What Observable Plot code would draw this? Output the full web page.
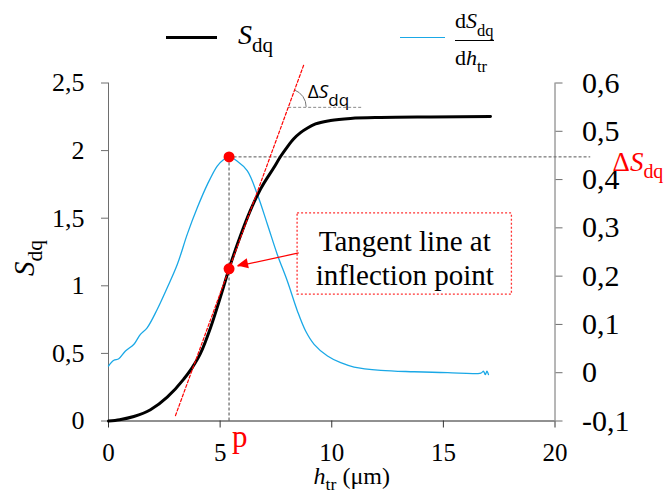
<!DOCTYPE html>
<html>
<head>
<meta charset="utf-8">
<script src="https://cdn.jsdelivr.net/npm/d3@7"></script>
<script src="https://cdn.jsdelivr.net/npm/@observablehq/plot@0.6"></script>
<style>
  body { margin: 0; background: #fff; }
  #wrap { position: relative; width: 669px; height: 493px; font-family: "Liberation Serif", "Times New Roman", serif; color: #000; }
  .lg { position: absolute; white-space: nowrap; line-height: 1; }
  .sb { position: relative; }
</style>
</head>
<body>
<div id="wrap"></div>
<script>
// ---- data ----
// S_dq curve (left axis)
const hS = [0, 0.5, 1.135, 1.88, 2.63, 3.37, 3.75, 4.12, 4.57, 5.02, 5.4, 5.91, 6.36, 6.81, 7.41, 7.706, 8.02, 8.289, 8.602, 8.916, 9.274, 9.946, 10.84, 12.19, 14.43, 17.11];
const S  = [0, 0.010, 0.033, 0.083, 0.176, 0.31, 0.395, 0.50, 0.69, 0.92, 1.126, 1.37, 1.56, 1.715, 1.875, 1.956, 2.030, 2.086, 2.133, 2.167, 2.197, 2.223, 2.238, 2.245, 2.249, 2.252];
// dS_dq/dh_tr curve (right axis)
const hD = [0, 0.24, 0.46, 0.76, 1.14, 1.43, 1.73, 2.18, 2.63, 3.08, 3.53, 3.98, 4.43, 4.87, 5.15, 5.4, 5.77, 6.22, 6.67, 7.12, 7.56, 8.01, 8.46, 8.83, 9.21, 9.81, 10.4, 11.0, 12.2, 13.69, 15.19, 16.68, 16.8, 16.88, 16.95, 17.02];
const dSdh = [0.0139, 0.0257, 0.029, 0.045, 0.059, 0.0795, 0.093, 0.131, 0.176, 0.224, 0.287, 0.342, 0.39, 0.428, 0.441, 0.447, 0.438, 0.418, 0.369, 0.307, 0.245, 0.19, 0.128, 0.0863, 0.0588, 0.0346, 0.0207, 0.0118, 0.005, 0.002, 0.0, -0.0006, 0.003, -0.004, 0.003, -0.004];

// ticks
const xTicks = [0, 5, 10, 15, 20];
const xLabels = ["0", "5", "10", "15", "20"];
const leftTicks = [0, 0.5, 1, 1.5, 2, 2.5];
const leftLabels = ["0", "0,5", "1", "1,5", "2", "2,5"];
const rightTicks = [-0.1, 0, 0.1, 0.2, 0.3, 0.4, 0.5, 0.6];
const rightLabels = ["-0,1", "0", "0,1", "0,2", "0,3", "0,4", "0,5", "0,6"];

// annotations (data units)
const inflection = [{x: 5.4, y: 1.126}];
const peak = [{x: 5.4, d: 0.447}];
const tangentX = [3.0, 8.76];
const tangentS = [0.04, 2.64];
const deltaLineX = [8.07, 11.4];
const deltaLineS = 2.32;
const peakLineEnd = 21.6;
const boxX = [8.47, 18.07];
const boxS = [0.935, 1.535];
const arrowFrom = [8.52, 1.243];
const arrowTo = [5.78, 1.146];
const boxText = "Tangent line at\ninflection point";

// legend / titles
const seriesNames = ["*S*_{dq}", "d*S*_{dq}", "d*h*_{tr}"];
const xTitle = "*h*_{tr} (μm)";
const deltaLabel = "Δ*S*_{dq}";
const deltaLabelSmall = "Δ*S*_(dq)";
const pLabel = "p";

// ---- scale mapping for right axis ----
const xDomain = [0, 20];
const leftDomain = [0, 2.5];
const rightDomain = [-0.1, 0.6];
const toLeft = v => (v - rightDomain[0]) / (rightDomain[1] - rightDomain[0]) * (leftDomain[1] - leftDomain[0]) + leftDomain[0];
const rightTicksL = rightTicks.map(toLeft);
const nearest = (arr, d) => { let bi = 0; arr.forEach((t, i) => { if (Math.abs(t - d) < Math.abs(arr[bi] - d)) bi = i; }); return bi; };

const curve = hS.map((x, i) => ({x, y: S[i]}));
const deriv = hD.map((x, i) => ({x, y: toLeft(dSdh[i])}));
const tangent = tangentX.map((x, i) => ({x, y: tangentS[i]}));
const peakL = peak.map(p => ({x: p.x, y: toLeft(p.d)}));

const blue = "#1aa8e6";
const red = "#ff0000";
const serif = "Liberation Serif";

const findScales = args => args.find(a => a && typeof a.x === "function" && typeof a.y === "function");

// angle arc between tangent and horizontal line
function angleMark(...args) {
  const sc = findScales(args);
  const cx = sc.x(deltaLineX[0]), cy = sc.y(deltaLineS);
  const ang = Math.atan2(sc.y(tangentS[1]) - sc.y(tangentS[0]), sc.x(tangentX[1]) - sc.x(tangentX[0]));
  const r = 18;
  return d3.create("svg:path")
    .attr("d", `M${cx + r},${cy} A${r},${r} 0 0 0 ${cx + r * Math.cos(ang)},${cy + r * Math.sin(ang)}`)
    .attr("fill", "none").attr("stroke", "#777").attr("stroke-width", 1).node();
}
// filled arrow head at the end of the callout arrow
function arrowHead(...args) {
  const sc = findScales(args);
  const x1 = sc.x(arrowFrom[0]), y1 = sc.y(arrowFrom[1]);
  const x2 = sc.x(arrowTo[0]), y2 = sc.y(arrowTo[1]);
  const a = Math.atan2(y2 - y1, x2 - x1);
  const L = 11, W = 5;
  const bx = x2 - L * Math.cos(a), by = y2 - L * Math.sin(a);
  const px = -Math.sin(a) * W, py = Math.cos(a) * W;
  return d3.create("svg:path")
    .attr("d", `M${x2},${y2} L${bx + px},${by + py} L${bx - px},${by - py} Z`)
    .attr("fill", red).node();
}

const plot = Plot.plot({
  width: 669,
  height: 493,
  marginLeft: 108,
  marginRight: 114.5,
  marginTop: 82.5,
  marginBottom: 72.5,
  x: {domain: xDomain},
  y: {domain: leftDomain},
  style: "background: white; overflow: visible; color: black; font-family: 'Liberation Serif', serif;",
  marks: [
    // dashed guides
    Plot.ruleX(peakL, {x: "x", y1: 0, y2: "y", stroke: "#8c8c8c", strokeWidth: 1.6, strokeDasharray: "3,2"}),
    Plot.ruleY(peakL, {y: "y", x1: "x", x2: peakLineEnd, stroke: "#555", strokeWidth: 1, strokeDasharray: "3,2"}),
    Plot.ruleY([deltaLineS], {x1: deltaLineX[0], x2: deltaLineX[1], stroke: "#888", strokeWidth: 1, strokeDasharray: "3,2"}),
    angleMark,
    // axes
    Plot.ruleY([0], {x1: xDomain[0], x2: xDomain[1], stroke: "#222"}),
    Plot.ruleX([xDomain[0]], {y1: leftDomain[0], y2: leftDomain[1], stroke: "#6e6e6e"}),
    Plot.ruleX([xDomain[1]], {y1: leftDomain[0], y2: leftDomain[1], stroke: "#6e6e6e"}),
    Plot.axisY({anchor: "left", ticks: leftTicks, tickFormat: d => leftLabels[nearest(leftTicks, d)], tickSize: 7, tickPadding: 17, fontSize: 26, fontFamily: serif, stroke: "#6e6e6e", label: null}),
    Plot.axisY({anchor: "right", ticks: rightTicksL, tickFormat: d => rightLabels[nearest(rightTicksL, d)], tickSize: 7, tickPadding: 20, fontSize: 30, fontFamily: serif, stroke: "#6e6e6e", label: null}),
    Plot.axisX({anchor: "bottom", ticks: xTicks, tickFormat: d => xLabels[nearest(xTicks, d)], tickSize: 7, tickPadding: 15, fontSize: 25, fontFamily: serif, stroke: "#333", label: null}),
    // curves
    Plot.line(deriv, {x: "x", y: "y", stroke: blue, strokeWidth: 1.3, curve: "catmull-rom"}),
    Plot.line(curve, {x: "x", y: "y", stroke: "black", strokeWidth: 3, curve: "monotone-x"}),
    Plot.line(tangent, {x: "x", y: "y", stroke: red, strokeWidth: 1.2, strokeDasharray: "3,2"}),
    // annotation box + arrow
    Plot.rect([{x1: boxX[0], x2: boxX[1], y1: boxS[0], y2: boxS[1]}], {x1: "x1", x2: "x2", y1: "y1", y2: "y2", fill: "none", stroke: "#ff3333", strokeWidth: 1.3, strokeDasharray: "2,2"}),
    Plot.text([boxText], {x: (boxX[0] + boxX[1]) / 2, y: (boxS[0] + boxS[1]) / 2, text: d => d, fontSize: 29, fontFamily: serif, lineAnchor: "middle", lineHeight: 1.17, dy: 3}),
    Plot.link([{x1: arrowFrom[0], y1: arrowFrom[1], x2: arrowTo[0], y2: arrowTo[1]}], {x1: "x1", y1: "y1", x2: "x2", y2: "y2", stroke: red, strokeWidth: 1.2}),
    arrowHead,
    // points
    Plot.dot(inflection, {x: "x", y: "y", r: 5.5, fill: red}),
    Plot.dot(peakL, {x: "x", y: "y", r: 5.5, fill: red}),
    // labels
    Plot.text(peakL, {x: xDomain[1], y: "y", text: () => deltaLabel, dx: 57.5, dy: 5, textAnchor: "start", lineAnchor: "middle", fontSize: 27, fontFamily: serif, fill: red}),
    Plot.text([deltaLineS], {x: deltaLineX[0], y: d => d, text: () => deltaLabelSmall, dx: 19, dy: -15, textAnchor: "start", lineAnchor: "middle", fontSize: 19, fontFamily: "Open Sans"}),
    Plot.text(inflection, {x: "x", y: 0, text: () => pLabel, dx: 3, dy: 15.6, textAnchor: "start", lineAnchor: "middle", fontSize: 31, fontFamily: serif, fill: red}),
    // axis titles
    Plot.text([seriesNames[0]], {frameAnchor: "left", text: d => d, rotate: -90, dx: -84, dy: 6, fontSize: 29, fontFamily: serif, textAnchor: "middle", lineAnchor: "middle"}),
    Plot.text([xTitle], {frameAnchor: "bottom", text: d => d, dx: 20, dy: 55, fontSize: 24, fontFamily: serif, textAnchor: "middle", lineAnchor: "middle"})
  ]
});

const wrap = document.getElementById("wrap");
wrap.appendChild(plot);

// rich text: *italic*, _{sub} (small) and _(sub) (large)
function richText(root) {
  root.querySelectorAll("text").forEach(t => {
    const s = t.textContent;
    if (!/\*|_\{|_\(/.test(s) || t.querySelector("tspan")) return;
    const fs = parseFloat(getComputedStyle(t).fontSize) || 16;
    t.textContent = "";
    const re = /\*([^*]+)\*|_\{([^}]+)\}|_\(([^)]+)\)|([^*_]+)/g;
    let m, shift = 0;
    while ((m = re.exec(s))) {
      const ts = document.createElementNS("http://www.w3.org/2000/svg", "tspan");
      let target = 0;
      if (m[1]) { ts.textContent = m[1]; ts.setAttribute("font-style", "italic"); }
      else if (m[2]) { ts.textContent = m[2]; ts.setAttribute("font-size", fs * 0.74); target = fs * 0.28; }
      else if (m[3]) { ts.textContent = m[3]; ts.setAttribute("font-size", fs * 0.9); target = fs * 0.42; }
      else ts.textContent = m[4];
      if (target !== shift) { ts.setAttribute("dy", target - shift); shift = target; }
      t.appendChild(ts);
    }
  });
}
richText(plot);

// HTML legend (in the top margin)
function md(s, subShift) {
  return s.replace(/\*([^*]+)\*/g, "<i>$1</i>")
          .replace(/_\{([^}]+)\}/g, `<span class="sb" style="font-size:0.75em;top:${subShift}px">$1</span>`);
}
function add(html, style) {
  const d = document.createElement("div");
  d.className = "lg";
  d.innerHTML = html;
  Object.assign(d.style, style);
  wrap.appendChild(d);
}
add("", {left: "166px", top: "35.5px", width: "51px", height: "3px", background: "black"});
add(md(seriesNames[0], 8), {left: "238px", top: "20.5px", fontSize: "28px"});
add("", {left: "400px", top: "36.5px", width: "45px", height: "1px", background: blue});
add(md(seriesNames[1], 8), {left: "455px", top: "10px", fontSize: "22px"});
add("", {left: "455px", top: "40px", width: "39px", height: "1px", background: "black"});
add(md(seriesNames[2], 7.5), {left: "455px", top: "46.6px", fontSize: "22px"});
</script>
</body>
</html>
